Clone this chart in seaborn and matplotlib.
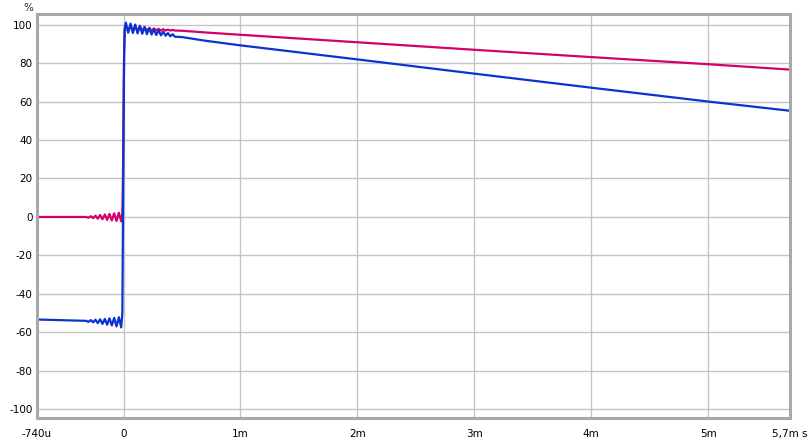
import matplotlib
matplotlib.use("Agg")
import matplotlib.pyplot as plt
import seaborn as sns
import pandas as pd

# Time axis in milliseconds
t_ms = [-0.74, -0.50, -0.32, -0.30, -0.28, -0.26, -0.24, -0.22, -0.20, -0.18,
        -0.16, -0.14, -0.12, -0.10, -0.08, -0.06, -0.04, -0.02, -0.01, -0.005,
        0.0, 0.005, 0.01, 0.02, 0.04, 0.06, 0.08, 0.10, 0.12, 0.14,
        0.16, 0.18, 0.20, 0.22, 0.24, 0.26, 0.28, 0.30, 0.32, 0.34,
        0.36, 0.38, 0.40, 0.42, 0.44, 0.50, 0.70, 1.0, 2.0, 3.0,
        4.0, 5.0, 5.7]

# Step response values in percent
red_pct = [0.0, 0.0, 0.0, -0.4, 0.4, -0.6, 0.7, -0.9, 1.0, -1.2,
           1.3, -1.5, 1.6, -1.8, 1.9, -2.1, 2.2, -2.3, 2.0, 20.0,
           55.0, 85.0, 97.0, 99.8, 96.6, 99.5, 96.6, 99.2, 96.7, 98.9,
           96.7, 98.6, 96.8, 98.3, 96.8, 98.0, 96.9, 97.8, 96.9, 97.6,
           96.9, 97.4, 96.9, 97.2, 96.9, 96.8, 95.9, 94.7, 90.8, 86.9,
           83.1, 79.4, 76.6]

blue_pct = [-53.3, -53.7, -54.0, -54.5, -53.6, -54.8, -53.4, -55.2, -53.2, -55.6,
            -53.0, -56.0, -52.7, -56.4, -52.4, -56.9, -52.1, -57.4, -50.0, -5.0,
            45.0, 85.0, 98.0, 101.0, 95.8, 100.5, 95.6, 100.0, 95.4, 99.4,
            95.2, 98.8, 95.0, 98.2, 94.8, 97.6, 94.6, 97.0, 94.4, 96.3,
            94.2, 95.6, 93.9, 95.0, 93.7, 93.5, 91.6, 89.2, 81.9, 74.5,
            67.2, 60.0, 55.2]

series_names = ["red", "blue"]
series_colors = ["#d4006c", "#0a34d2"]

x_ticks = [-0.74, 0, 1, 2, 3, 4, 5, 5.7]
x_tick_labels = ["-740u", "0", "1m", "2m", "3m", "4m", "5m", "5,7m s"]
y_ticks = [-100, -80, -60, -40, -20, 0, 20, 40, 60, 80, 100]
y_tick_labels = [str(v) for v in y_ticks]

df = pd.DataFrame({
    "t": t_ms * 2,
    "value": red_pct + blue_pct,
    "series": ["red"] * len(t_ms) + ["blue"] * len(t_ms),
})

sns.set_theme(style="white")
plt.rcParams["font.family"] = ["DejaVu Sans"]

fig = plt.figure(figsize=(8.08, 4.40), dpi=100)
ax = fig.add_axes([37 / 808, 22 / 440, (790 - 37) / 808, (418 - 14) / 440])

sns.lineplot(data=df, x="t", y="value", hue="series", hue_order=series_names,
             palette=dict(zip(series_names, series_colors)), estimator=None,
             sort=False, linewidth=1.6, legend=False, ax=ax)

ax.set_xlim(-0.74, 5.7)
ax.set_ylim(-104.5, 105.5)
ax.set_xticks(x_ticks)
ax.set_xticklabels(x_tick_labels)
ax.set_yticks(y_ticks)
ax.set_yticklabels(y_tick_labels)
ax.set_xlabel("")
ax.set_ylabel("")
ax.grid(True, color="#c4c4c4", linewidth=1.0)
ax.set_axisbelow(True)
ax.tick_params(axis="both", length=0, labelsize=7.5, colors="#000000")
ax.tick_params(axis="x", pad=8)
ax.tick_params(axis="y", pad=3)
for s in ax.spines.values():
    s.set_color("#a8a8a8")
    s.set_linewidth(2.2)
    s.set_visible(True)

fig.text(28 / 808, 1 - 8 / 440, "%", ha="center", va="center", fontsize=7.5)

fig.savefig("out.png", dpi=100)
